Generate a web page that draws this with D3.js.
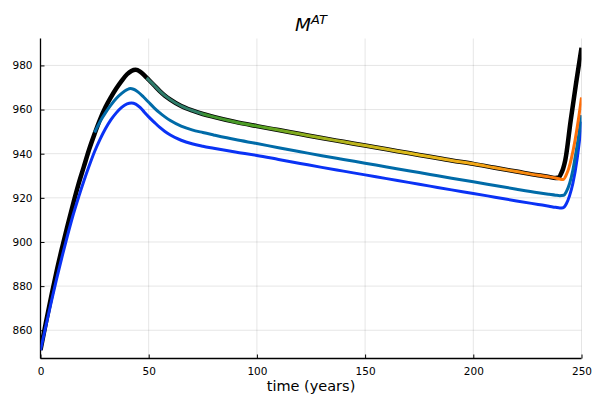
<!DOCTYPE html>
<html><head><meta charset="utf-8">
<script src="https://cdn.jsdelivr.net/npm/d3@7"></script>
<style>body{margin:0;background:#fff}</style></head><body>
<svg id="c" width="602" height="400"></svg>
<script>
const xTicks=[0,50,100,150,200,250];
const yTicks=[860,880,900,920,940,960,980];

const tBlack=[0,2.5,5,7.5,10,12.5,15,17.5,20,22.5,25,27.5,30,32.5,35,37.5,40,42,44,46,48,50,52.5,55,57.5,60,65,70,75,80,90,100,110,120,130,140,150,160,170,180,190,200,210,220,230,235,238,239.5,240.5,241.5,242.5,245,247.5,250];
const vBlack=[851,863.5,875.5,887,897.5,907.5,917,926,934,942,949,955.5,961,965.5,969.5,973,976,977.5,978,977.2,975.5,973.5,971,968.5,966.3,964.5,961.6,959.6,958,956.7,954.4,952.5,950.7,948.9,947.1,945.4,943.7,942,940.3,938.6,936.9,935.4,933.6,931.9,930.2,929.5,929,929.2,930.8,933.2,937,955,972,988];

const tColor=[49,50,52.5,55,57.5,60,65,70,75,80,90,100,110,120,130,140,150,160,170,180,190,200,210,220,230,235,238,240,241.5,243,244,245.3,247,248.5,250];
const vColor=[974.3,973.5,971,968.5,966.3,964.5,961.6,959.6,958,956.7,954.4,952.5,950.7,948.9,947.1,945.4,943.7,942,940.3,938.6,936.9,935.4,933.6,931.9,930.2,929.5,929,928.5,928.3,930.5,933,937.8,946,955,965.5];
const colorStops=[[49,"#2e7a6c"],[73,"#2e7f66"],[76,"#3e9230"],[100,"#50a022"],[125,"#96b01e"],[150,"#c6b61c"],[175,"#e2bb1c"],[200,"#f2a816"],[225,"#fa8a10"],[250,"#ff6c08"]];

const tTeal=[25,27.5,30,32.5,35,37.5,40,41.5,43,45,47.5,50,52.5,55,57.5,60,65,70,75,80,90,100,110,120,130,140,150,160,170,180,190,200,210,220,230,235,238,240,241.8,243,244.5,246,247,248.5,250];
const vTeal=[949.6,954.5,958.5,962,965,967.3,969,969.5,969.2,968,965.8,963.3,960.8,958.6,956.7,955,952.5,950.8,949.6,948.5,946.4,944.6,942.7,940.9,939.1,937.4,935.7,934,932.3,930.6,928.9,927.3,925.6,923.9,922.3,921.6,921.2,921,921.2,922.8,926.5,932.5,938,947,957.5];

const tBlue=[0,2.5,5,7.5,10,12.5,15,17.5,20,22.5,25,27.5,30,32.5,35,37.5,40,42,44,46,48,50,52.5,55,57.5,60,65,70,75,80,90,100,110,120,130,140,150,160,170,180,190,200,210,220,230,235,238,240,241.5,243,244.5,246,248,249,250];
const vBlue=[851,862,873,883.5,893.5,903,912,920,927.5,934.5,941,946.5,951.3,955.3,958.5,961,962.6,963,962.5,961,958.8,956.7,954.3,952,950.1,948.5,946.1,944.5,943.4,942.5,940.8,939.2,937.4,935.6,933.8,932.1,930.4,928.7,927,925.3,923.6,922,920.3,918.6,917,916.2,915.7,915.4,915.5,917.3,921,926.5,937.8,945.5,954.5];

const svg=d3.select("#c");
const L=40.5,R=581.5,T=38.5,B=358.5;
const x=d3.scaleLinear().domain([0,250]).range([L,R]);
const y=d3.scaleLinear().domain([847.2,992.2]).range([B,T]);
const font="DejaVu Sans, sans-serif";

// grid
svg.append("g").selectAll("line").data(xTicks).join("line")
  .attr("x1",d=>x(d)).attr("x2",d=>x(d)).attr("y1",T).attr("y2",B)
  .attr("stroke","#000").attr("stroke-opacity",0.1).attr("stroke-width",1);
svg.append("g").selectAll("line").data(yTicks).join("line")
  .attr("x1",L).attr("x2",R).attr("y1",d=>y(d)).attr("y2",d=>y(d))
  .attr("stroke","#000").attr("stroke-opacity",0.1).attr("stroke-width",1);

// axes
const xa=svg.append("g").attr("transform",`translate(0,${B})`)
  .call(d3.axisBottom(x).tickValues(xTicks).tickSize(-4).tickPadding(9).tickSizeOuter(0));
const ya=svg.append("g").attr("transform",`translate(${L},0)`)
  .call(d3.axisLeft(y).tickValues(yTicks).tickSize(-4).tickPadding(8).tickSizeOuter(0));
[xa,ya].forEach(a=>{
  a.select(".domain").attr("stroke","#000").attr("stroke-width",1.3);
  a.selectAll(".tick line").attr("stroke","#000").attr("stroke-width",1);
  a.selectAll("text").attr("font-family",font).attr("font-size","10.5px").attr("fill","#000");
});
xa.select(".domain").attr("d",`M${L},0H${R}`);
ya.select(".domain").attr("d",`M0,${B}V${T}`);

// gradient
const defs=svg.append("defs");
const grad=defs.append("linearGradient").attr("id","g1").attr("gradientUnits","userSpaceOnUse")
  .attr("x1",x(49)).attr("x2",x(250)).attr("y1",0).attr("y2",0);
grad.selectAll("stop").data(colorStops).join("stop")
  .attr("offset",d=>(d[0]-49)/(250-49)).attr("stop-color",d=>d[1]);
defs.append("clipPath").attr("id","clip").append("rect").attr("x",L).attr("y",T-5).attr("width",R-L).attr("height",B-T+5);

const line=(ts,vs)=>d3.line().curve(d3.curveMonotoneX).x((d,i)=>x(ts[i])).y((d,i)=>y(vs[i]))(vs);
const g=svg.append("g").attr("clip-path","url(#clip)");
g.append("path").attr("d",line(tBlack,vBlack)).attr("fill","none").attr("stroke","#000").attr("stroke-width",4.5).attr("stroke-linejoin","round");
g.append("path").attr("d",line(tBlue,vBlue)).attr("fill","none").attr("stroke","#0a32f5").attr("stroke-width",3).attr("stroke-linejoin","round");
g.append("path").attr("d",line(tTeal,vTeal)).attr("fill","none").attr("stroke","#006ba8").attr("stroke-width",3).attr("stroke-linejoin","round");
g.append("path").attr("d",line(tColor,vColor)).attr("fill","none").attr("stroke","url(#g1)").attr("stroke-width",3).attr("stroke-linejoin","round");

// title
const tt=svg.append("text").attr("x",311).attr("y",31).attr("text-anchor","middle")
  .attr("font-family",font).attr("font-size","18.5px").attr("fill","#000");
tt.append("tspan").attr("font-style","italic").text("M");
tt.append("tspan").attr("font-style","italic").attr("font-size","13px").attr("dy","-7").text("AT");

svg.append("text").attr("x",311).attr("y",391).attr("text-anchor","middle")
  .attr("font-family",font).attr("font-size","14.5px").attr("fill","#000").text("time (years)");
</script>
</body></html>
